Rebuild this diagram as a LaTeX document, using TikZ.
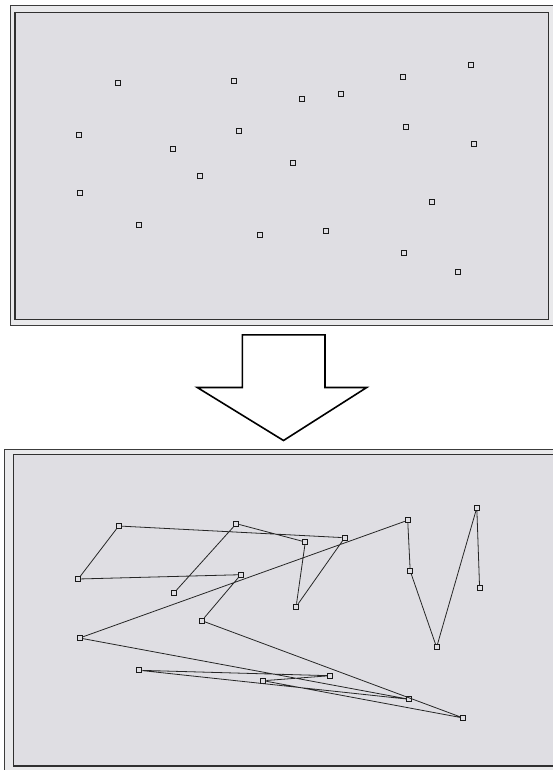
\documentclass[tikz,border=0pt]{standalone}
\usepackage{tikz}
\usepackage{xcolor}
\definecolor{panelgray}{RGB}{223,222,227}
\definecolor{rimgray}{RGB}{233,233,235}
\definecolor{edgegray}{RGB}{60,60,60}
\begin{document}
\begin{tikzpicture}[x=1pt, y=-1pt,
        frame/.style={draw=edgegray, line width=0.9pt, fill=rimgray},
        panel/.style={draw=edgegray!80!black, line width=1.3pt, fill=panelgray},
        city/.style={rectangle, draw=black!90, line width=1pt, inner sep=0pt,
          minimum size=5pt},
        tour/.style={black!85, line width=0.8pt},
        bigarrow/.style={draw=black, line width=1.6pt, fill=white, line join=miter}]
        \useasboundingbox[fill=white] (0,0) rectangle (552,770);
        \draw[frame] (10.5,5.3) rectangle (555,325);
        \draw[panel] (15,12.3) rectangle (548.5,319.5);
        \draw[frame] (4.3,449) rectangle (560,775);
        \draw[panel] (13.5,454.5) rectangle (556,766);
        \foreach \name/\x/\y in {a/118.3/82.7, b/233.8/80.7, c/302.1/99, d/340.8/94.3,
            e/403.2/77, f/471.1/64.7, g/78.5/135, h/238.7/130.7, i/172.9/149,
            j/405.6/127, k/474/144.3, l/293/162.7, m/200/176, n/79.9/193.3,
            o/431.7/202.3, p/138.7/225, q/259.9/235.3, r/326/230.7, s/404.2/253.3,
            t/457.7/271.7}
          \node[city] (t\name) at (\x,\y) {};
        \foreach \name/\x/\y in {a/118.7/526, b/236.3/523.7, c/305.3/542, d/344.7/537.7,
            e/407.7/520.3, f/476.8/507.7, g/78.2/579, h/240.8/574.7, i/173.9/593,
            j/410.2/571, k/479.6/588.3, l/296.1/606.7, m/201.8/620.7, n/79.6/638,
            o/436.6/647.3, p/139.4/670.3, q/263.3/680.7, r/330/675.7, s/409.3/699.3,
            t/463.3/718}
          \node[city] (s\name) at (\x,\y) {};
        \draw[tour] (si) -- (sb) -- (sc) -- (sl) -- (sd) -- (sa) -- (sg) -- (sh)
          -- (sm) -- (st) -- (sq) -- (sr) -- (sp) -- (ss) -- (sn) -- (se) -- (sj)
          -- (so) -- (sf) -- (sk);
        \draw[bigarrow] (242.3,334.8) -- (325,334.8) -- (325,387.5) -- (366.7,387.5)
          -- (283.5,440.5) -- (197.3,387.5) -- (242.3,387.5) -- cycle;
      \end{tikzpicture}
\end{document}
